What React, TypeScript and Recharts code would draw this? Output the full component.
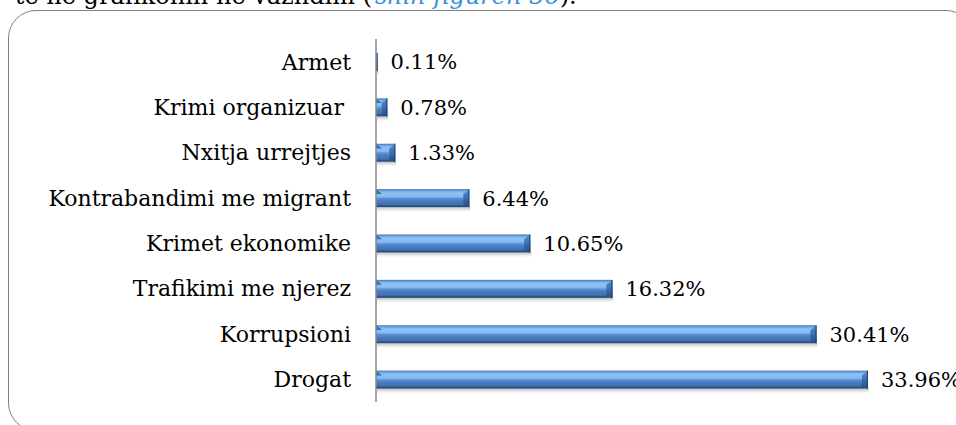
import React from "react"
import { Bar, BarChart, LabelList, XAxis, YAxis } from "recharts"

// category labels, top to bottom as in the figure
const categories = [
  "Armet",
  "Krimi organizuar ",
  "Nxitja urrejtjes",
  "Kontrabandimi me migrant",
  "Krimet ekonomike",
  "Trafikimi me njerez",
  "Korrupsioni",
  "Drogat",
]

// share of cases, in percent
const shares = [0.11, 0.78, 1.33, 6.44, 10.65, 16.32, 30.41, 33.96]

const chartData = categories.map((name, i) => ({ name, value: shares[i] }))

const FONT = "'DejaVu Serif', 'Liberation Serif', serif"

function CategoryTick({ x, y, payload }: any) {
  return (
    <text
      x={x - 23}
      y={y}
      dy="0.36em"
      textAnchor="end"
      fontSize={22}
      fontFamily={FONT}
      fill="#000"
      style={{ whiteSpace: "pre" }}
    >
      {payload.value}
    </text>
  )
}

// bevelled bar, similar to the office "bevel" effect
function BevelBar({ x, y, width, height }: any) {
  if (!width || width <= 0) return null
  const b = Math.min(6, width / 2)
  const right = x + width
  return (
    <g>
      <rect x={x + 1} y={y + height} width={width} height={5} fill="url(#barShadow)" />
      <rect x={x} y={y} width={width} height={height} fill="url(#barFace)" />
      <polygon points={`${x},${y} ${x + b},${y + b * 0.8} ${x},${y + b * 0.8}`} fill="#3a6cae" />
      <polygon
        points={`${right - b},${y + b * 0.8} ${right},${y} ${right},${y + height} ${right - b},${y + height - 2}`}
        fill="url(#barSide)"
      />
      <line x1={right - 0.5} y1={y} x2={right - 0.5} y2={y + height} stroke="#1f3f6e" strokeWidth={1} />
    </g>
  )
}

export default function App() {
  return (
    <div style={{ position: "absolute", left: 0, top: 0, width: 956, height: 425, overflow: "hidden", background: "#fff" }}>
      {/* running text of the page, cut off by the top edge as in the source */}
      <svg width={956} height={20} style={{ position: "absolute", left: 0, top: 0 }}>
        <text x={372} y={4} textAnchor="end" fontSize={24} fontFamily={FONT} fill="#000">
          të në grafikonin në vazhdim (
        </text>
        <text x={375} y={4} fontSize={24} fontFamily={FONT} fill="#000">
          <tspan fill="#3b8fd8" fontStyle="italic">shih figurën 36</tspan>
          ).
        </text>
      </svg>
      <div
        style={{
          position: "absolute",
          left: 8,
          top: 10,
          width: 966,
          height: 421,
          border: "1.5px solid #808080",
          borderRadius: 28,
          boxSizing: "border-box",
        }}
      />
      <div style={{ position: "absolute", left: 0, top: 0 }}>
        <BarChart
          width={956}
          height={425}
          data={chartData}
          layout="vertical"
          margin={{ top: 39, right: 73, bottom: 23, left: 0 }}
          barSize={18}
        >
          <defs>
            <linearGradient id="barFace" x1="0" y1="0" x2="0" y2="1">
              <stop offset="0" stopColor="#3f73b5" />
              <stop offset="0.1" stopColor="#6fa6e6" />
              <stop offset="0.2" stopColor="#8ec1f2" />
              <stop offset="0.42" stopColor="#86baf0" />
              <stop offset="0.52" stopColor="#5a90d2" />
              <stop offset="0.64" stopColor="#4a7ec0" />
              <stop offset="0.86" stopColor="#3f6fae" />
              <stop offset="0.92" stopColor="#2d568e" />
              <stop offset="1" stopColor="#1f3f6e" />
            </linearGradient>
            <linearGradient id="barSide" x1="0" y1="0" x2="0" y2="1">
              <stop offset="0" stopColor="#5a8fd0" />
              <stop offset="0.5" stopColor="#3d6eae" />
              <stop offset="1" stopColor="#264d84" />
            </linearGradient>
            <linearGradient id="barShadow" x1="0" y1="0" x2="0" y2="1">
              <stop offset="0" stopColor="#8c8c8c" stopOpacity={0.55} />
              <stop offset="1" stopColor="#bdbdbd" stopOpacity={0} />
            </linearGradient>
          </defs>
          <XAxis type="number" domain={[0, 35]} hide />
          <YAxis
            type="category"
            dataKey="name"
            width={376}
            axisLine={{ stroke: "#888888", strokeWidth: 1.5 }}
            tickLine={false}
            tickSize={0}
            tick={<CategoryTick />}
            interval={0}
          />
          <Bar dataKey="value" shape={<BevelBar />} isAnimationActive={false}>
            <LabelList
              dataKey="value"
              position="right"
              offset={13}
              formatter={(v: any) => `${Number(v).toFixed(2)}%`}
              fill="#000"
              fontSize={21}
              fontFamily={FONT}
            />
          </Bar>
        </BarChart>
      </div>
    </div>
  )
}
